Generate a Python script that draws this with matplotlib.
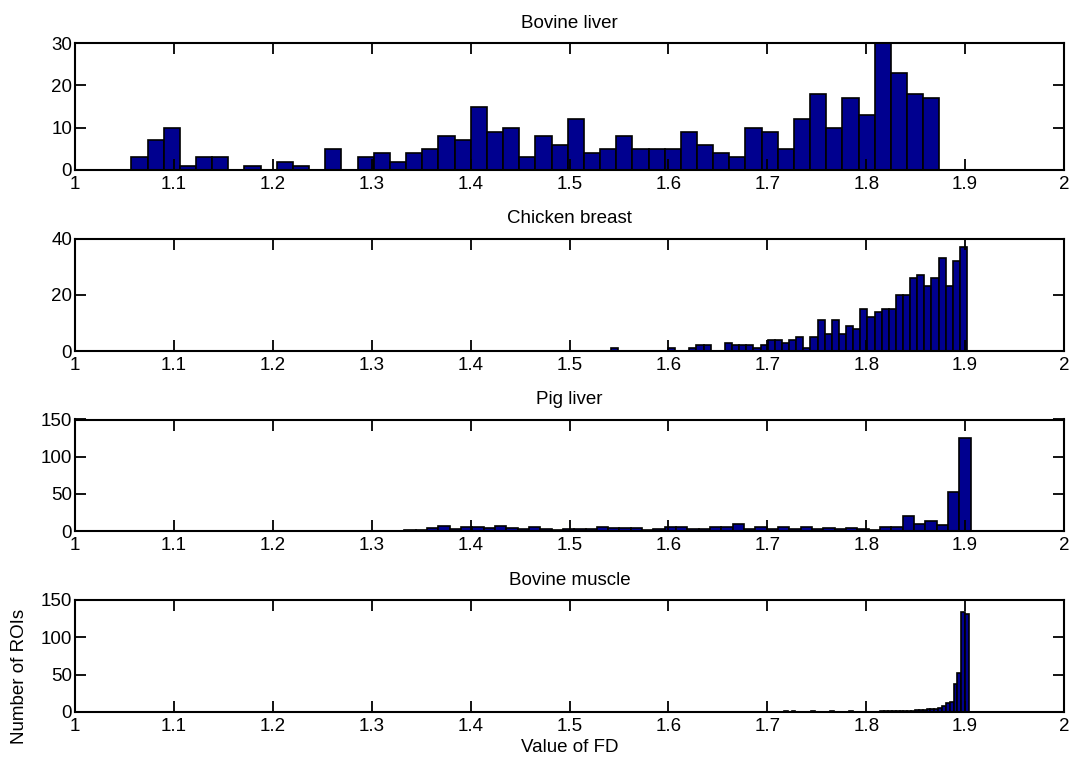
import numpy as np
import matplotlib
matplotlib.use('Agg')
import matplotlib.pyplot as plt

plt.rcParams['font.family'] = ['Liberation Sans', 'DejaVu Sans']
plt.rcParams['font.size'] = 13.5

titles = ['Bovine liver', 'Chicken breast', 'Pig liver', 'Bovine muscle']

# histogram counts, 50 bins each, between min and max FD of each tissue
bovine_liver = [3, 7, 10, 1, 3, 3, 0, 1, 0, 2, 1, 0, 5, 0, 3, 4, 2, 4, 5, 8,
                7, 15, 9, 10, 3, 8, 6, 12, 4, 5, 8, 5, 5, 5, 9, 6, 4, 3, 10, 9,
                5, 12, 18, 10, 17, 13, 30, 23, 18, 17]
chicken_breast = [1, 0, 0, 0, 0, 0, 0, 0, 1, 0, 0, 1, 2, 2, 0, 0, 3, 2, 2, 2,
                  1, 2, 4, 4, 3, 4, 5, 1, 5, 11, 6, 11, 6, 9, 8, 15, 12, 14, 15, 15,
                  20, 20, 26, 27, 23, 26, 33, 23, 32, 37]
pig_liver = [1, 1, 4, 7, 3, 5, 6, 4, 7, 4, 3, 6, 3, 2, 3, 3, 3, 6, 4, 4,
             4, 2, 3, 5, 5, 3, 3, 5, 6, 9, 3, 5, 3, 5, 3, 5, 3, 4, 3, 4,
             3, 2, 5, 5, 20, 9, 14, 8, 52, 125]
bovine_muscle = [0, 0, 1, 0, 1, 0, 0, 0, 0, 1, 0, 0, 0, 0, 1, 0, 0, 0, 0, 2,
                 0, 0, 0, 0, 0, 0, 0, 1, 1, 1, 1, 1, 2, 2, 2, 2, 3, 3, 3, 4,
                 4, 4, 6, 8, 12, 13, 37, 52, 134, 131]

fd_min = [1.057, 1.542, 1.333, 1.709]
fd_max = [1.874, 1.902, 1.9055, 1.904]

yticks = [[0, 10, 20, 30], [0, 20, 40], [0, 50, 100, 150], [0, 50, 100, 150]]
xticks = [1, 1.1, 1.2, 1.3, 1.4, 1.5, 1.6, 1.7, 1.8, 1.9, 2]
xlabels = ['1', '1.1', '1.2', '1.3', '1.4', '1.5', '1.6', '1.7', '1.8', '1.9', '2']

counts = [bovine_liver, chicken_breast, pig_liver, bovine_muscle]

W, H = 1079, 761
fig = plt.figure(figsize=(W / 100, H / 100), dpi=100)

# axes boxes in pixels: (top, bottom)
boxes = [(43, 170), (238.5, 351), (419.5, 531), (600, 712)]
left, right = 75, 1064

for i in range(4):
    top, bot = boxes[i]
    ax = fig.add_axes([left / W, 1 - bot / H, (right - left) / W, (bot - top) / H])
    edges = np.linspace(fd_min[i], fd_max[i], len(counts[i]) + 1)
    ax.bar(edges[:-1], counts[i], width=np.diff(edges), align='edge',
           color='#00008F', edgecolor='black', linewidth=1.2)
    ax.set_xlim(1, 2)
    ax.set_ylim(yticks[i][0], yticks[i][-1])
    ax.set_yticks(yticks[i])
    ax.set_xticks(xticks)
    ax.set_xticklabels(xlabels)
    ax.tick_params(direction='in', length=8, width=1.3, top=True, right=True,
                   labelsize=13.5, pad=2)
    ax.tick_params(axis='x', pad=4)
    for s in ax.spines.values():
        s.set_linewidth(1.5)
    ax.set_title(titles[i], fontsize=13.5, pad=11)

fig.text(570 / W, 1 - 747 / H, 'Value of FD', ha='center', va='center', fontsize=13.5)
fig.text(20 / W, 1 - 676 / H, 'Number of ROIs', ha='center', va='center',
         rotation=90, fontsize=13.5)

fig.savefig('out.png', dpi=100)
